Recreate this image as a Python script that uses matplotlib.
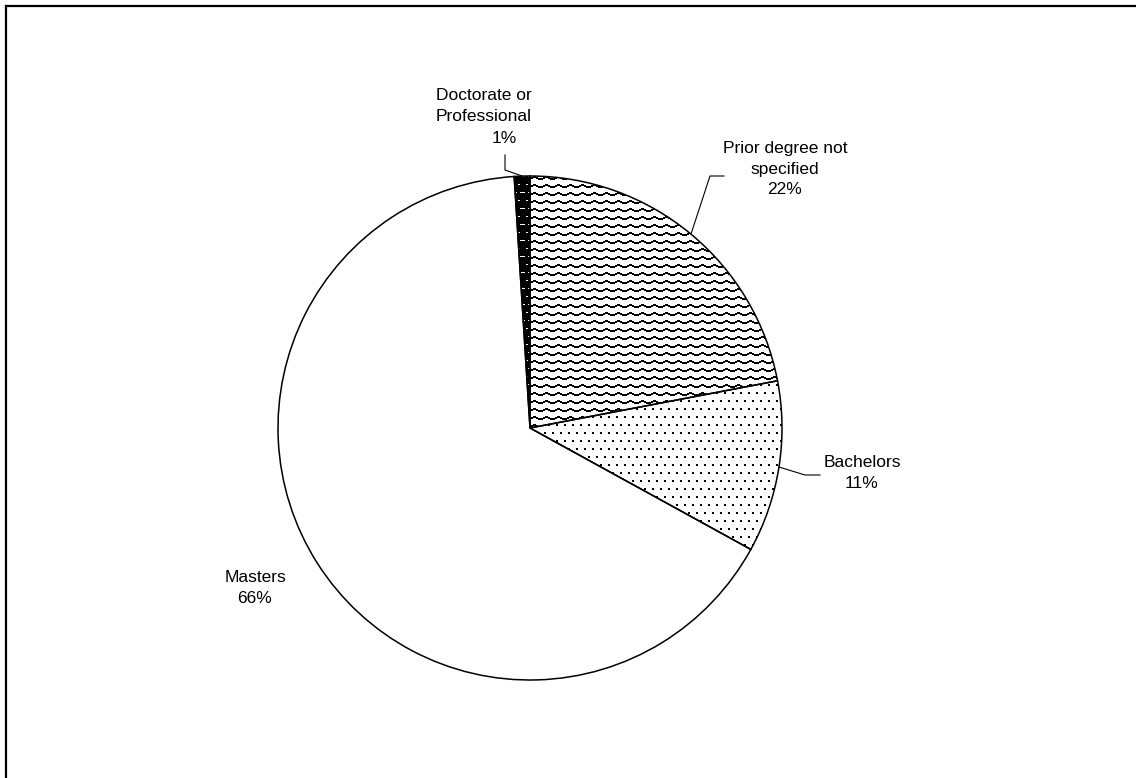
import numpy as np
import matplotlib
matplotlib.use("Agg")
import matplotlib.pyplot as plt

# Share of students by prior degree
categories = ["Prior degree not\nspecified", "Bachelors", "Masters", "Doctorate or\nProfessional"]
shares = [22, 11, 66, 1]
pct_labels = ["22%", "11%", "66%", "1%"]

W, H = 1136, 778
fig = plt.figure(figsize=(W / 100, H / 100), dpi=100)
ax = fig.add_axes([0, 0, 1, 1])

cx, cy, R = 530, H - 428, 252
wedges, _ = ax.pie(shares, startangle=90, counterclock=False,
                   center=(cx, cy), radius=R,
                   wedgeprops=dict(facecolor="none", edgecolor="black",
                                   linewidth=1.1, zorder=3))
ax.set_xlim(0, W)
ax.set_ylim(0, H)
ax.set_aspect("auto")
ax.axis("off")


def tile_fill(tile, wedge, zorder=1):
    th, tw = tile.shape
    pat = np.tile(tile, (H // th + 1, W // tw + 1))[:H, :W]
    im = ax.imshow(1 - pat, cmap="gray", vmin=0, vmax=1, extent=(0, W, 0, H),
                   origin="upper", interpolation="nearest", zorder=zorder)
    im.set_clip_path(wedge)


# wave pattern
wave = np.zeros((8, 12))
wave[0:2, 5:8] = 1
wave[1:3, 3:5] = 1
wave[1:3, 8:10] = 1
wave[2:4, 0:3] = 1
wave[2:4, 10:12] = 1
# dotted pattern
dots = np.zeros((16, 8))
dots[0:2, 0:2] = 1
dots[8:10, 4:6] = 1
# dark pattern with light dashes
dark = np.ones((16, 8))
dark[0, 0:5] = 0
dark[8, 6:8] = 0

tile_fill(wave, wedges[0])
tile_fill(dots, wedges[1])
tile_fill(dark, wedges[3])

# slice labels
font = dict(family=["Liberation Sans", "DejaVu Sans"], fontsize=12.5,
            ha="center", va="center", linespacing=1.45, color="black")
ax.text(785, H - 169, categories[0] + "\n" + pct_labels[0], **font)
ax.text(862, H - 473, categories[1] + "\n" + pct_labels[1], **font)
ax.text(255, H - 588, categories[2] + "\n" + pct_labels[2], **font)
ax.text(484, H - 106, categories[3], **font)
ax.text(504, H - 138, pct_labels[3], **font)

# leader lines
lk = dict(color="black", linewidth=0.8, zorder=4)
ax.plot([505, 505, 522], [H - 155, H - 170, H - 176], **lk)
ax.plot([724, 710, 691], [H - 176, H - 176, H - 234], **lk)
ax.plot([779, 805, 820], [H - 467, H - 475, H - 475], **lk)

# outer frame
fk = dict(color="black", linewidth=1.6, solid_capstyle="projecting", zorder=5)
ax.plot([6, 6], [-10, H - 6], **fk)
ax.plot([6, W + 10], [H - 6, H - 6], **fk)

fig.savefig("out.png", dpi=100, facecolor="white")
